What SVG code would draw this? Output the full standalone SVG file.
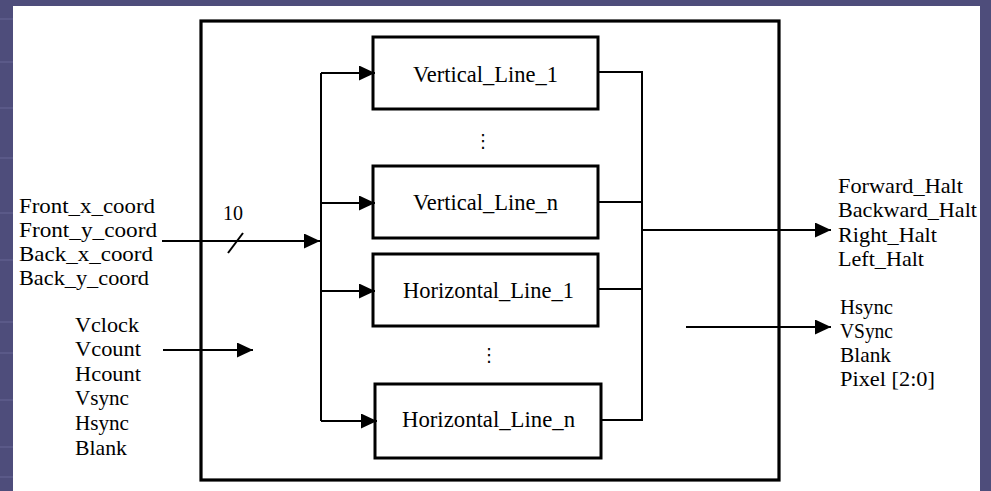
<svg xmlns="http://www.w3.org/2000/svg" width="991" height="491" viewBox="0 0 991 491">
  <defs>
    <marker id="arrow" markerUnits="userSpaceOnUse" markerWidth="17" markerHeight="15" refX="16" refY="7.5" orient="auto">
      <path d="M0,0 L16,7.5 L0,15 Z" fill="#000"/>
    </marker>
    <style>
      .box { fill: #fff; stroke: #000; stroke-width: 3; }
      .frame { fill: none; stroke: #000; stroke-width: 3.2; }
      .wire { fill: none; stroke: #000; stroke-width: 2; }
      .lbl { font-family: "Liberation Serif", "Times New Roman", serif; font-size: 22px; fill: #000; }
      .name { font-family: "Liberation Serif", "Times New Roman", serif; font-size: 22.5px; fill: #000; text-anchor: middle; }
      .dots { font-family: "DejaVu Sans", sans-serif; font-size: 18px; fill: #000; text-anchor: middle; }
    </style>
  </defs>

  <!-- slide background -->
  <rect x="0" y="0" width="991" height="491" fill="#4e4d7b"/>
  <g stroke="#5f5e8c" stroke-width="1.5">
    <line x1="0" y1="19" x2="13" y2="19"/>
    <line x1="0" y1="62" x2="13" y2="62"/>
    <line x1="0" y1="108" x2="13" y2="108"/>
    <line x1="0" y1="158" x2="13" y2="158"/>
    <line x1="0" y1="213" x2="13" y2="213"/>
    <line x1="0" y1="260" x2="13" y2="260"/>
    <line x1="0" y1="322" x2="13" y2="322"/>
    <line x1="0" y1="353" x2="13" y2="353"/>
    <line x1="0" y1="400" x2="13" y2="400"/>
    <line x1="0" y1="447" x2="13" y2="447"/>
    <line x1="0" y1="477" x2="13" y2="477"/>
  </g>
  <rect x="13" y="6" width="967" height="485" fill="#fff"/>

  <!-- enclosing module -->
  <rect id="module" class="frame" x="201" y="21" width="578" height="459"/>

  <g id="vertical-line-1">
    <rect class="box" x="373" y="37" width="225" height="72"/>
    <text class="name" x="485.5" y="81.5">Vertical_Line_1</text>
  </g>
  <g id="vertical-line-n">
    <rect class="box" x="373" y="166" width="225" height="72"/>
    <text class="name" x="485.5" y="210">Vertical_Line_n</text>
  </g>
  <g id="horizontal-line-1">
    <rect class="box" x="373" y="254" width="225" height="72"/>
    <text class="name" x="488.5" y="298" textLength="171" lengthAdjust="spacingAndGlyphs">Horizontal_Line_1</text>
  </g>
  <g id="horizontal-line-n">
    <rect class="box" x="375" y="384" width="226" height="74"/>
    <text class="name" x="488.5" y="427" textLength="173" lengthAdjust="spacingAndGlyphs">Horizontal_Line_n</text>
  </g>

  <!-- ellipses between instances -->
  <text class="dots" x="483" y="147">⋮</text>
  <text class="dots" x="489" y="361">⋮</text>

  <g id="connectors">
    <!-- input fan-out bus -->
    <path class="wire" d="M321,73 V421"/>
    <path class="wire" d="M321,73 H375" marker-end="url(#arrow)"/>
    <path class="wire" d="M321,203 H375" marker-end="url(#arrow)"/>
    <path class="wire" d="M321,291 H375" marker-end="url(#arrow)"/>
    <path class="wire" d="M321,421 H377" marker-end="url(#arrow)"/>
    <!-- output collect bus -->
    <path class="wire" d="M598,72 H642 V420 H601"/>
    <path class="wire" d="M598,202 H642"/>
    <path class="wire" d="M598,289 H642"/>
    <!-- external inputs -->
    <path class="wire" d="M162,241 H320" marker-end="url(#arrow)"/>
    <path class="wire" d="M228,253 L243,233"/>
    <path class="wire" d="M163,350 H253" marker-end="url(#arrow)"/>
    <!-- external outputs -->
    <path class="wire" d="M642,230 H831" marker-end="url(#arrow)"/>
    <path class="wire" d="M686,327 H831" marker-end="url(#arrow)"/>
  </g>

  <!-- bus width -->
  <text class="lbl" x="223" y="220" font-size="15" textLength="20" lengthAdjust="spacingAndGlyphs">10</text>

  <g id="coord-inputs">
    <text class="lbl" x="19" y="213" textLength="136" lengthAdjust="spacingAndGlyphs">Front_x_coord</text>
    <text class="lbl" x="19" y="237" textLength="138" lengthAdjust="spacingAndGlyphs">Front_y_coord</text>
    <text class="lbl" x="19" y="261" textLength="134" lengthAdjust="spacingAndGlyphs">Back_x_coord</text>
    <text class="lbl" x="19" y="285" textLength="130" lengthAdjust="spacingAndGlyphs">Back_y_coord</text>
  </g>

  <g id="vga-inputs">
    <text class="lbl" x="75" y="331.5" textLength="64" lengthAdjust="spacingAndGlyphs">Vclock</text>
    <text class="lbl" x="75" y="356" textLength="66" lengthAdjust="spacingAndGlyphs">Vcount</text>
    <text class="lbl" x="75" y="380.7" textLength="66" lengthAdjust="spacingAndGlyphs">Hcount</text>
    <text class="lbl" x="75" y="405.3" textLength="54" lengthAdjust="spacingAndGlyphs">Vsync</text>
    <text class="lbl" x="75" y="429.9" textLength="54" lengthAdjust="spacingAndGlyphs">Hsync</text>
    <text class="lbl" x="75" y="454.5" textLength="52" lengthAdjust="spacingAndGlyphs">Blank</text>
  </g>

  <g id="halt-outputs">
    <text class="lbl" x="838" y="193" textLength="125" lengthAdjust="spacingAndGlyphs">Forward_Halt</text>
    <text class="lbl" x="838" y="217" textLength="139" lengthAdjust="spacingAndGlyphs">Backward_Halt</text>
    <text class="lbl" x="838" y="241.5" textLength="99" lengthAdjust="spacingAndGlyphs">Right_Halt</text>
    <text class="lbl" x="838" y="266" textLength="86" lengthAdjust="spacingAndGlyphs">Left_Halt</text>
  </g>

  <g id="vga-outputs">
    <text class="lbl" x="840" y="313.5" textLength="53" lengthAdjust="spacingAndGlyphs">Hsync</text>
    <text class="lbl" x="840" y="337.5" textLength="53" lengthAdjust="spacingAndGlyphs">VSync</text>
    <text class="lbl" x="840" y="362" textLength="51" lengthAdjust="spacingAndGlyphs">Blank</text>
    <text class="lbl" x="840" y="386" textLength="95" lengthAdjust="spacingAndGlyphs">Pixel [2:0]</text>
  </g>
</svg>
